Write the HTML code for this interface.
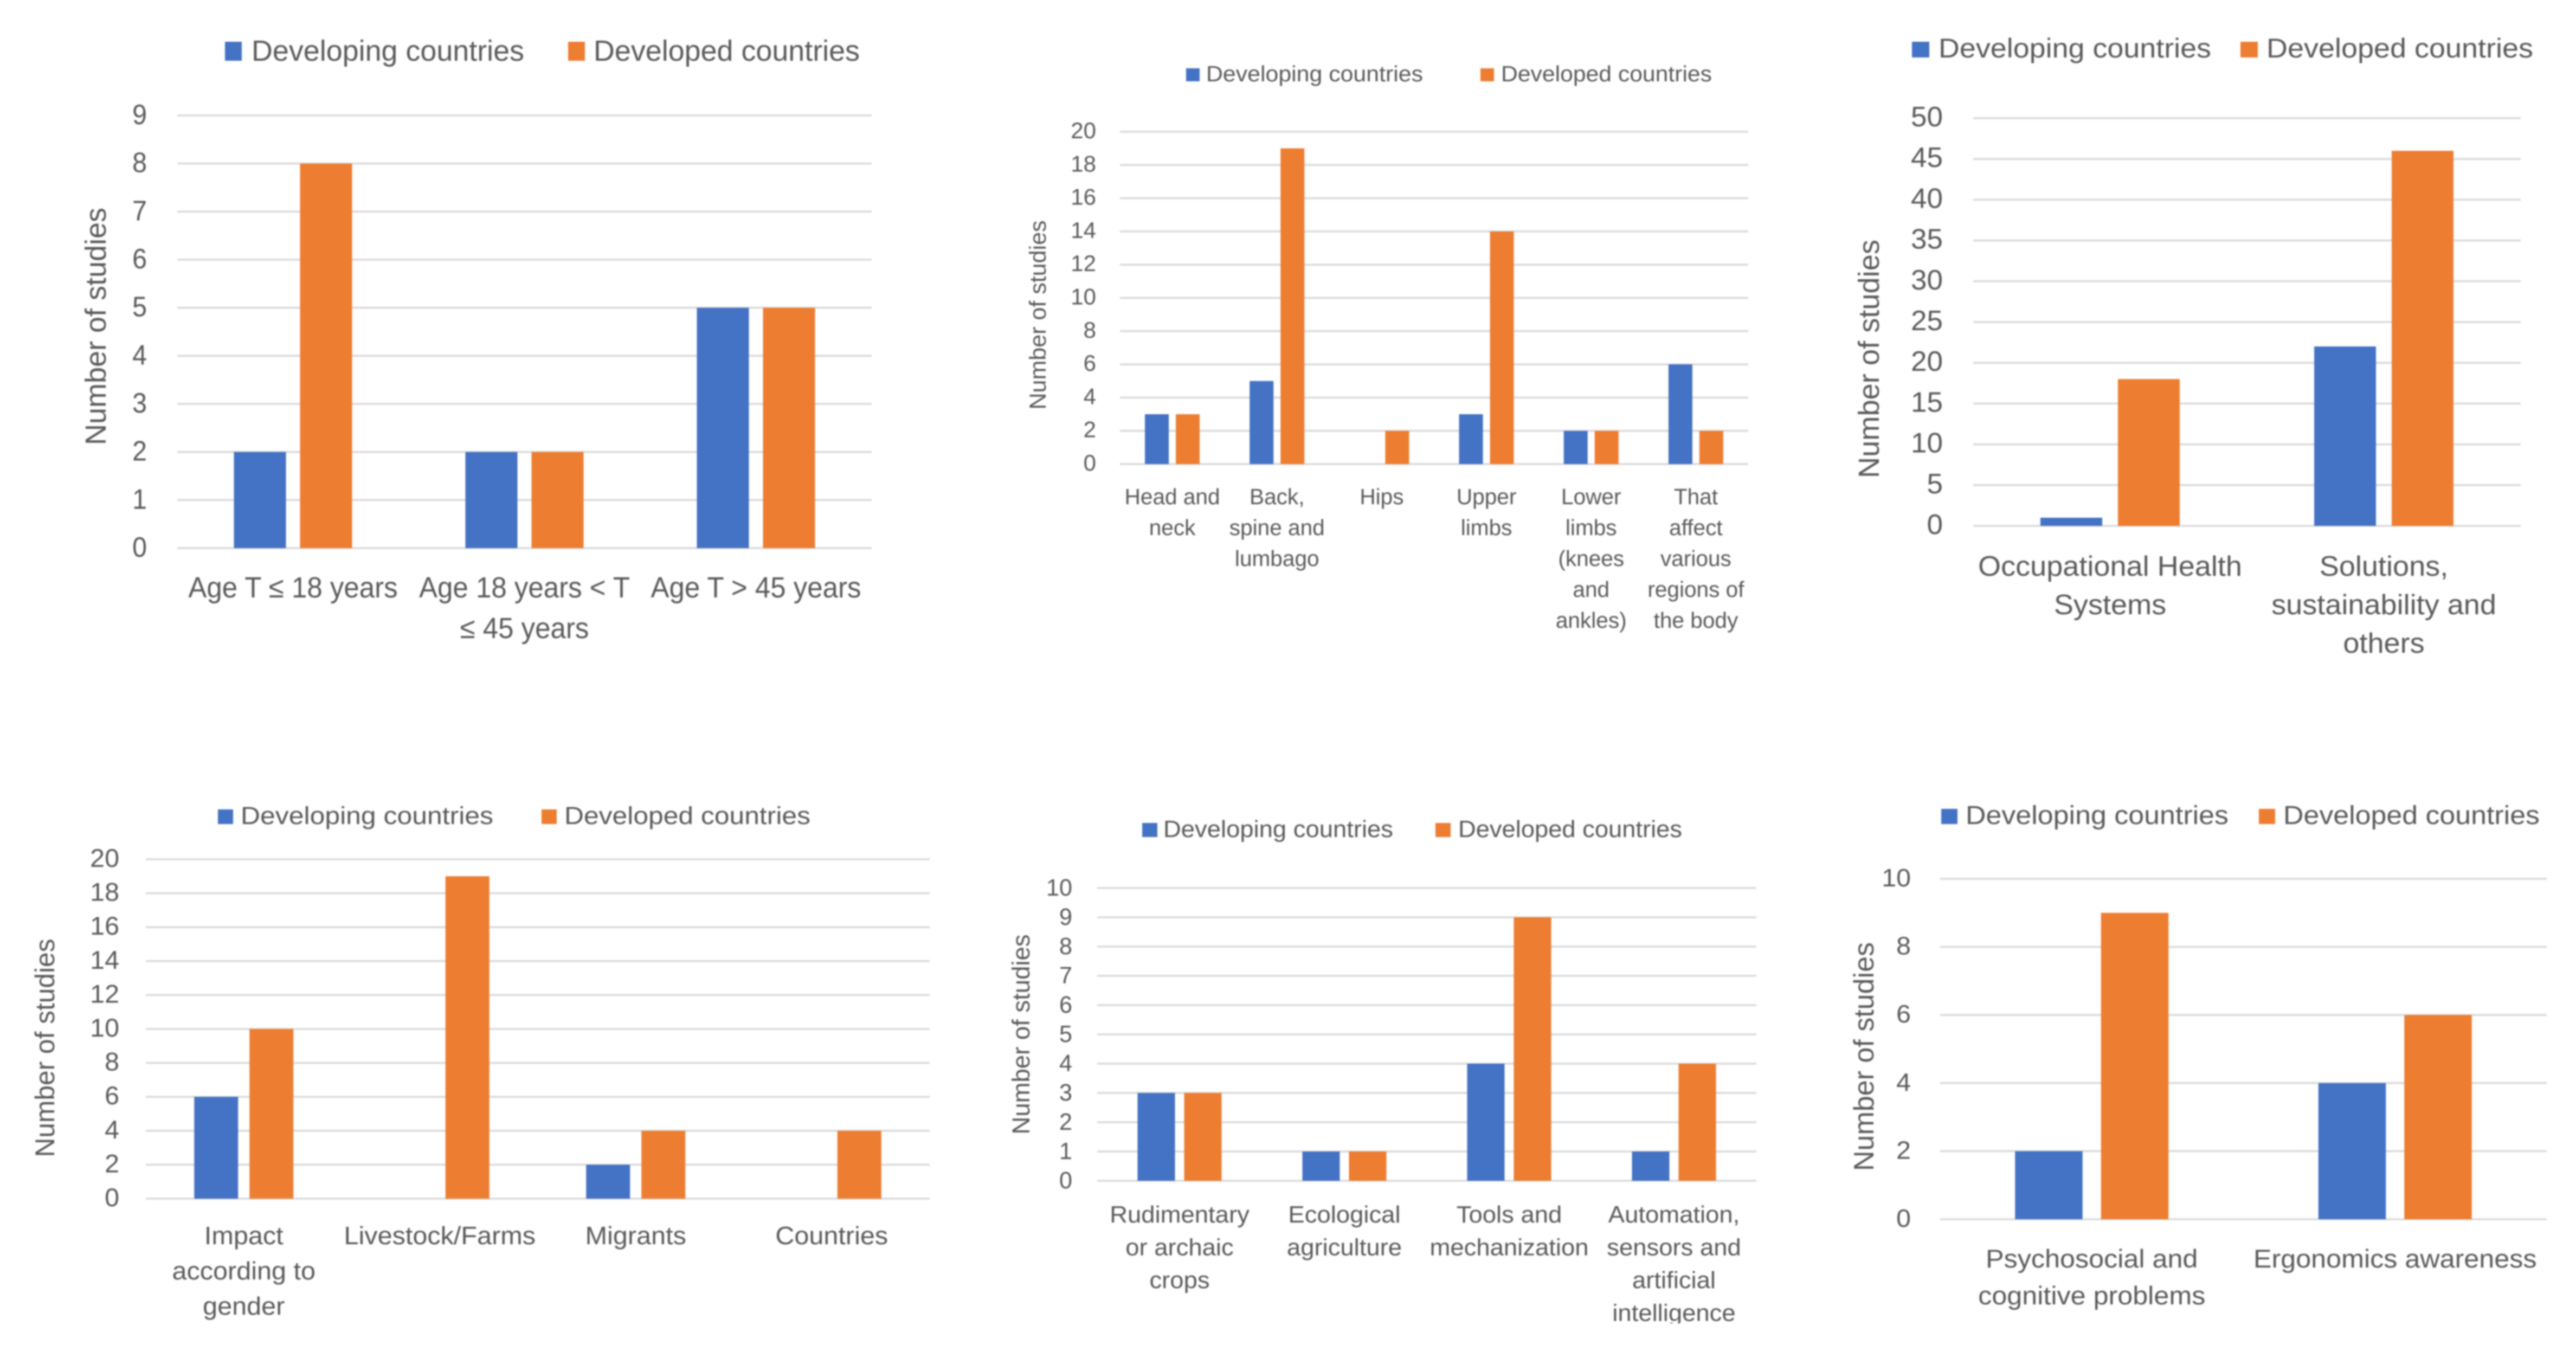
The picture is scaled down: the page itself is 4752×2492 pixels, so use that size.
<!DOCTYPE html>
<html lang="en">
<head>
<meta charset="utf-8">
<title>Number of studies by category: developing and developed countries</title>
<style>
html,body{margin:0;padding:0;background:#fff;}
body{width:4752px;height:2492px;overflow:hidden;}
svg{display:block;filter:blur(1.2px);}
text{font-family:"Liberation Sans","DejaVu Sans",sans-serif;fill:#595959;}
</style>
</head>
<body>
<svg id="figure" xmlns="http://www.w3.org/2000/svg" width="4752" height="2492" viewBox="0 0 4752 2492">
<defs><clipPath id="page-clip-5"><rect x="1800" y="1460" width="1500" height="981"/></clipPath></defs>
<rect x="0" y="0" width="4752" height="2492" fill="#ffffff"/>
</svg>
<script>
// ---- Data ----
const seriesNames = ['Developing countries', 'Developed countries'];
const axisTitle = 'Number of studies';

const ageCategories = ['Age T ≤ 18 years', 'Age 18 years < T|≤ 45 years', 'Age T > 45 years'];
const ageDeveloping = [2, 2, 5];
const ageDeveloped = [8, 2, 5];
const ageTicks = [0, 1, 2, 3, 4, 5, 6, 7, 8, 9];

const bodyCategories = ['Head and|neck', 'Back,|spine and|lumbago', 'Hips', 'Upper|limbs', 'Lower|limbs|(knees|and|ankles)', 'That|affect|various|regions of|the body'];
const bodyDeveloping = [3, 5, 0, 3, 2, 6];
const bodyDeveloped = [3, 19, 2, 14, 2, 2];
const bodyTicks = [0, 2, 4, 6, 8, 10, 12, 14, 16, 18, 20];

const systemCategories = ['Occupational Health|Systems', 'Solutions,|sustainability and|others'];
const systemDeveloping = [1, 22];
const systemDeveloped = [18, 46];
const systemTicks = [0, 5, 10, 15, 20, 25, 30, 35, 40, 45, 50];

const groupCategories = ['Impact|according to|gender', 'Livestock/Farms', 'Migrants', 'Countries'];
const groupDeveloping = [6, 0, 2, 0];
const groupDeveloped = [10, 19, 4, 4];
const groupTicks = [0, 2, 4, 6, 8, 10, 12, 14, 16, 18, 20];

const farmCategories = ['Rudimentary|or archaic|crops', 'Ecological|agriculture', 'Tools and|mechanization', 'Automation,|sensors and|artificial|intelligence'];
const farmDeveloping = [3, 1, 4, 1];
const farmDeveloped = [3, 1, 9, 4];
const farmTicks = [0, 1, 2, 3, 4, 5, 6, 7, 8, 9, 10];

const mindCategories = ['Psychosocial and|cognitive problems', 'Ergonomics awareness'];
const mindDeveloping = [2, 4];
const mindDeveloped = [9, 6];
const mindTicks = [0, 2, 4, 6, 8, 10];

// ---- Layout (presentation only) ----
const charts = [
  {id:'age', cats:ageCategories, a:ageDeveloping, b:ageDeveloped, ticks:ageTicks,
   L:327, R:1608, T:213, B:1011, barW:96, gap:26,
   tickR:271, tickFs:52, tickK:0.93, tickDy:16,
   catFs:54, catK:0.945, catBase:1102, catLh:75,
   titleX:195, titleCy:602, titleLen:438, titleFs:54,
   leg:{y:77, h:35, s1:415, sw:31, t1:464, w1:503, s2:1048, t2:1095, w2:491, base:112, fs:54}},
  {id:'body', cats:bodyCategories, a:bodyDeveloping, b:bodyDeveloped, ticks:bodyTicks,
   L:2066, R:3225, T:243, B:856, barW:44, gap:13,
   tickR:2022, tickFs:42, tickK:1.0, tickDy:12,
   catFs:41, catK:0.99, catBase:930, catLh:57,
   titleX:1929, titleCy:581, titleLen:349, titleFs:43,
   leg:{y:126, h:24, s1:2188, sw:25, t1:2225, w1:400, s2:2731, t2:2769, w2:389, base:150, fs:41}},
  {id:'system', cats:systemCategories, a:systemDeveloping, b:systemDeveloped, ticks:systemTicks,
   L:3640, R:4650, T:218, B:970, barW:114, gap:29,
   tickR:3584, tickFs:52, tickK:1.02, tickDy:15,
   catFs:52, catK:1.04, catBase:1062, catLh:71,
   titleX:3466, titleCy:662, titleLen:440, titleFs:54,
   leg:{y:77, h:29, s1:3527, sw:32, t1:3576, w1:503, s2:4133, t2:4181, w2:492, base:106, fs:50}},
  {id:'group', cats:groupCategories, a:groupDeveloping, b:groupDeveloped, ticks:groupTicks,
   L:269, R:1715, T:1585, B:2211, barW:81, gap:21,
   tickR:220, tickFs:47, tickK:1.03, tickDy:14,
   catFs:46, catK:1.056, catBase:2295, catLh:65,
   titleX:100, titleCy:1933, titleLen:403, titleFs:50,
   leg:{y:1493, h:27, s1:402, sw:28, t1:444, w1:466, s2:999, t2:1041, w2:454, base:1520, fs:45}},
  {id:'farm', cats:farmCategories, a:farmDeveloping, b:farmDeveloped, ticks:farmTicks,
   L:2024, R:3240, T:1638, B:2178, barW:69, gap:17,
   tickR:1978, tickFs:44, tickK:0.98, tickDy:14,
   catFs:44, catK:1.033, catBase:2255, catLh:60.5, clip:'page-clip-5',
   titleX:1899, titleCy:1908, titleLen:369, titleFs:45,
   leg:{y:1518, h:26, s1:2107, sw:28, t1:2146, w1:424, s2:2648, t2:2690, w2:413, base:1544, fs:44}},
  {id:'mind', cats:mindCategories, a:mindDeveloping, b:mindDeveloped, ticks:mindTicks,
   L:3579, R:4698, T:1621, B:2249, barW:124.5, gap:34,
   tickR:3525, tickFs:46, tickK:1.05, tickDy:14,
   catFs:47, catK:1.07, catBase:2338, catLh:68,
   titleX:3456, titleCy:1949, titleLen:422, titleFs:52,
   leg:{y:1492, h:28, s1:3581, sw:30, t1:3626, w1:485, s2:4167, t2:4212, w2:473, base:1520, fs:48}}
];

const BLUE = '#4472C4';
const ORANGE = '#ED7D31';
const GRID = '#D9D9D9';
const SVGNS = 'http://www.w3.org/2000/svg';
const root = document.getElementById('figure');

function create(parent, tag, attrs) {
  const node = document.createElementNS(SVGNS, tag);
  for (const key in attrs) node.setAttribute(key, attrs[key]);
  parent.appendChild(node);
  return node;
}

function label(parent, str, x, y, fs, anchor, k) {
  const t = create(parent, 'text', {
    transform: 'translate(' + x + ' ' + y + ') scale(' + k + ' 1)',
    'font-size': fs,
    'text-anchor': anchor
  });
  t.textContent = str;
  return t;
}

function drawChart(c) {
  const g = create(root, 'g', {});
  
  

  const maxTick = c.ticks[c.ticks.length - 1];
  const yScale = v => c.B - (v / maxTick) * (c.B - c.T);
  const band = (c.R - c.L) / c.cats.length;
  const bandCenter = i => c.L + band * (i + 0.5);

  // gridlines and y tick labels
  c.ticks.forEach(tick => {
    const line = create(g, 'line', {x1: c.L, x2: c.R, y1: yScale(tick), y2: yScale(tick), stroke: GRID, 'stroke-width': 3.5});
    
    
    const tl = label(g, String(tick), c.tickR, yScale(tick) + c.tickDy, c.tickFs, 'end', c.tickK);
    
    
  });

  // bars
  c.cats.forEach((cat, i) => {
    const left = bandCenter(i) - c.gap / 2 - c.barW;
    const right = bandCenter(i) + c.gap / 2;
    const barA = create(g, 'rect', {x: left, y: yScale(c.a[i]), width: c.barW, height: c.B - yScale(c.a[i]), fill: BLUE});
    
    
    const barB = create(g, 'rect', {x: right, y: yScale(c.b[i]), width: c.barW, height: c.B - yScale(c.b[i]), fill: ORANGE});
    
    

    // category label lines
    const catGroup = create(g, 'g', c.clip ? {'clip-path': 'url(#' + c.clip + ')'} : {});
    
    
    cat.split('|').forEach((lineText, j) => {
      label(catGroup, lineText, bandCenter(i), c.catBase + j * c.catLh, c.catFs, 'middle', c.catK);
    });
  });

  // y axis title
  const title = create(g, 'text', {
    transform: 'translate(' + c.titleX + ' ' + c.titleCy + ') rotate(-90)',
    'font-size': c.titleFs,
    'text-anchor': 'middle',
    textLength: c.titleLen,
    lengthAdjust: 'spacingAndGlyphs'
  });
  title.textContent = axisTitle;
  
  

  // legend
  const leg = c.leg;
  const legendGroup = create(g, 'g', {});
  
  
  const swatchA = create(legendGroup, 'rect', {x: leg.s1, y: leg.y, width: leg.sw, height: leg.h, fill: BLUE});
  
  
  const textA = create(legendGroup, 'text', {x: leg.t1, y: leg.base, 'font-size': leg.fs, textLength: leg.w1, lengthAdjust: 'spacingAndGlyphs'});
  textA.textContent = seriesNames[0];
  
  
  const swatchB = create(legendGroup, 'rect', {x: leg.s2, y: leg.y, width: leg.sw, height: leg.h, fill: ORANGE});
  
  
  const textB = create(legendGroup, 'text', {x: leg.t2, y: leg.base, 'font-size': leg.fs, textLength: leg.w2, lengthAdjust: 'spacingAndGlyphs'});
  textB.textContent = seriesNames[1];
  
  
}

charts.forEach(drawChart);
</script>
</body>
</html>
